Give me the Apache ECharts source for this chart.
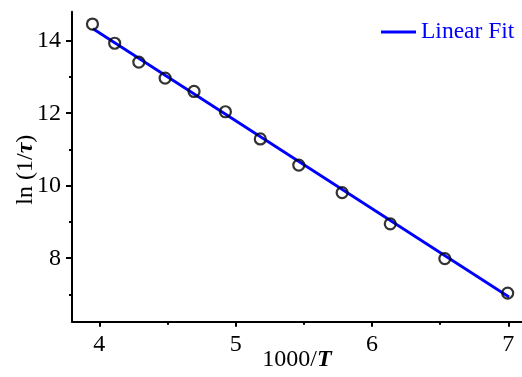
<!DOCTYPE html>
<html>
<head>
<meta charset="utf-8">
<script src="https://cdn.jsdelivr.net/npm/echarts@6/dist/echarts.min.js"></script>
<style>html,body{margin:0;padding:0;background:#fff}#c{width:522px;height:377px}</style>
</head>
<body>
<div id="c"></div>
<script>
const xValues = [3.95, 4.113, 4.29, 4.483, 4.695, 4.925, 5.181, 5.463, 5.781, 6.134, 6.534, 6.995];
const yValues = [14.46, 13.93, 13.41, 12.97, 12.60, 12.04, 11.29, 10.57, 9.81, 8.95, 7.99, 7.04];
const fitX = [3.954, 7.005];
const fitY = [14.33, 6.93];
const xMajorTicks = [4, 5, 6, 7];
const xMinorTicks = [4.5, 5.5, 6.5];
const yMajorTicks = [8, 10, 12, 14];
const yMinorTicks = [7, 9, 11, 13];
const xRange = [3.8, 7.1];
const yRange = [6.25, 14.8];

const FONT = '"Liberation Serif", "Times New Roman", serif';
const chart = echarts.init(document.getElementById('c'), null, {renderer: 'canvas'});

const baseAxis = (range) => ({
  type: 'value', min: range[0], max: range[1], splitLine: {show: false}
});

chart.setOption({
  animation: false,
  backgroundColor: '#fff',
  grid: {left: 72, top: 11.7, right: 0, bottom: 55.3, containLabel: false, outerBoundsMode: 'none'},
  legend: {
    show: true,
    data: [{name: 'Linear Fit', icon: 'rect', itemStyle: {color: '#0000FF'}}],
    left: 381, top: 20, padding: 0,
    itemWidth: 35, itemHeight: 3, itemGap: 4,
    textStyle: {fontFamily: FONT, fontSize: 23.5, color: '#0000FF'}
  },
  xAxis: [
    Object.assign(baseAxis(xRange), {
      position: 'bottom',
      axisLine: {show: true, onZero: false, lineStyle: {color: '#000', width: 2}},
      axisTick: {show: true, customValues: xMajorTicks, length: 5, lineStyle: {color: '#000', width: 2}},
      axisLabel: {show: true, customValues: xMajorTicks, margin: 11, fontFamily: FONT, fontSize: 24, color: '#000'},
      name: '{n|1000/}{b|T}',
      nameLocation: 'middle', nameGap: 26, nameMoveOverlap: false,
      nameTextStyle: {rich: {
        n: {fontFamily: FONT, fontSize: 24, color: '#000'},
        b: {fontFamily: FONT, fontSize: 24, color: '#000', fontWeight: 'bold', fontStyle: 'italic'}
      }}
    }),
    Object.assign(baseAxis(xRange), {
      position: 'bottom',
      axisLine: {show: false, onZero: false},
      axisTick: {show: true, customValues: xMinorTicks, length: 3, lineStyle: {color: '#000', width: 2}},
      axisLabel: {show: false}
    })
  ],
  yAxis: [
    Object.assign(baseAxis(yRange), {
      position: 'left',
      axisLine: {show: true, onZero: false, lineStyle: {color: '#000', width: 2}},
      axisTick: {show: true, customValues: yMajorTicks, length: 6, lineStyle: {color: '#000', width: 2}},
      axisLabel: {show: true, customValues: yMajorTicks, margin: 11, fontFamily: FONT, fontSize: 24, color: '#000'},
      name: '{n|ln (1/}{b|τ}{n|)}',
      nameLocation: 'middle', nameGap: 34, nameMoveOverlap: false,
      nameTextStyle: {padding: [0, 0, 0, -6], rich: {
        n: {fontFamily: FONT, fontSize: 24, color: '#000'},
        b: {fontFamily: FONT, fontSize: 24, color: '#000', fontWeight: 'bold', fontStyle: 'italic'}
      }}
    }),
    Object.assign(baseAxis(yRange), {
      position: 'left',
      axisLine: {show: false, onZero: false},
      axisTick: {show: true, customValues: yMinorTicks, length: 3, lineStyle: {color: '#000', width: 2}},
      axisLabel: {show: false}
    })
  ],
  series: [
    {
      name: 'Linear Fit', type: 'line', xAxisIndex: 0, yAxisIndex: 0,
      data: fitX.map((x, i) => [x, fitY[i]]),
      showSymbol: false, symbol: 'none',
      lineStyle: {color: '#0000FF', width: 2.8},
      itemStyle: {color: '#0000FF'},
      z: 3
    },
    {
      name: 'Data', type: 'scatter', xAxisIndex: 0, yAxisIndex: 0,
      data: xValues.map((x, i) => [x, yValues[i]]),
      symbol: 'circle', symbolSize: 11,
      itemStyle: {color: 'rgba(0,0,0,0)', borderColor: '#000', borderWidth: 2.2},
      z: 4
    }
  ]
});
</script>
</body>
</html>
